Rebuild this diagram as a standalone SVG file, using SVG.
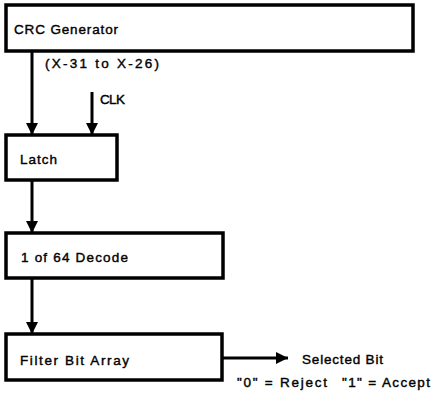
<svg xmlns="http://www.w3.org/2000/svg" width="431" height="395" viewBox="0 0 431 395">
<defs>
<marker id="ah" viewBox="0 0 10 10" refX="10" refY="5" markerWidth="4" markerHeight="4" orient="auto" markerUnits="strokeWidth">
<path d="M0,0 L10,5 L0,10 Z" fill="#000"/>
</marker>
</defs>
<style>
.box{fill:#fff;stroke:#000;stroke-width:3.5}
.t{font-family:"Liberation Sans",Arial,sans-serif;font-size:13.5px;fill:#000;stroke:#000;stroke-width:0.4}
.c{stroke:#000;stroke-width:3;fill:none}
</style>
<rect width="431" height="395" fill="#fff"/>
<g id="crc">
<rect class="box" x="6" y="5" width="407" height="46"/>
<text class="t" x="14" y="34" textLength="104" lengthAdjust="spacing">CRC Generator</text>
</g>
<g id="latch">
<rect class="box" x="6" y="135" width="111" height="45"/>
<text class="t" x="20" y="164" textLength="37" lengthAdjust="spacing">Latch</text>
</g>
<g id="decode">
<rect class="box" x="6" y="233" width="217" height="45"/>
<text class="t" x="21" y="262" textLength="107" lengthAdjust="spacing">1 of 64 Decode</text>
</g>
<g id="filter">
<rect class="box" x="6" y="334" width="216" height="46"/>
<text class="t" x="20" y="365" textLength="109" lengthAdjust="spacing">Filter Bit Array</text>
</g>
<g id="connectors">
<line class="c" x1="32" y1="51" x2="32" y2="135" marker-end="url(#ah)"/>
<line class="c" x1="92" y1="92" x2="92" y2="135" marker-end="url(#ah)"/>
<line class="c" x1="32" y1="180" x2="32" y2="233" marker-end="url(#ah)"/>
<line class="c" x1="32" y1="278" x2="32" y2="334" marker-end="url(#ah)"/>
<line class="c" x1="222" y1="358" x2="288" y2="358" marker-end="url(#ah)"/>
</g>
<g id="labels">
<text class="t" x="45" y="68" textLength="114" lengthAdjust="spacing">(X-31 to X-26)</text>
<text class="t" x="100" y="104" textLength="25" lengthAdjust="spacing">CLK</text>
<text class="t" x="302" y="364" textLength="81" lengthAdjust="spacing">Selected Bit</text>
<text class="t" x="237" y="387" textLength="90" lengthAdjust="spacing">"0" = Reject</text>
<text class="t" x="342" y="387" textLength="88" lengthAdjust="spacing">"1" = Accept</text>
</g>
</svg>
